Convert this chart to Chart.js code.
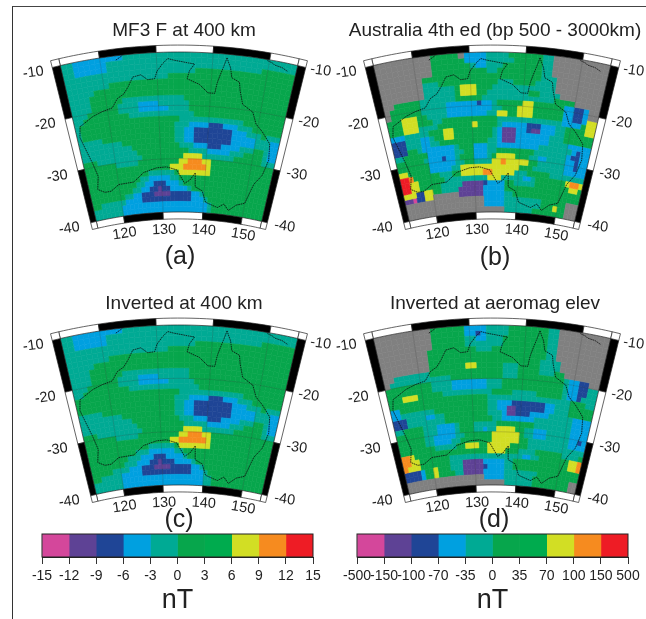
<!DOCTYPE html>
<html><head><meta charset="utf-8">
<script src="https://cdn.jsdelivr.net/npm/chart.js@4"></script>
<style>
html,body{margin:0;padding:0;background:#fff;width:646px;height:619px;overflow:hidden}
canvas{position:absolute;filter:blur(0.45px)}
#edge{position:absolute;left:12px;top:6px;width:640px;height:620px;border-left:1.4px solid #333;border-top:1.4px solid #444}
</style></head><body>
<div id="edge"></div>
<canvas id="mapA" width="368" height="280" style="left:0;top:0"></canvas>
<canvas id="mapB" width="350" height="280" style="left:320px;top:0"></canvas>
<canvas id="mapC" width="368" height="280" style="left:0;top:273px"></canvas>
<canvas id="mapD" width="350" height="280" style="left:320px;top:273px"></canvas>
<canvas id="barL" width="330" height="99" style="left:0;top:520px"></canvas>
<canvas id="barR" width="326" height="99" style="left:320px;top:520px"></canvas>
<script>
// Colour classes 0..9 (colour bar order), 10 = no data
const classColors=['#D4479B','#5E4295','#1F4596','#00A0E0','#00AA94','#07A64C','#00AB4E','#D2DE24','#F68B1F','#EE1C25','#808080'];
const titles=['MF3 F at 400 km','Australia 4th ed (bp 500 - 3000km)','Inverted at 400 km','Inverted at aeromag elev'];
const panelTags=['(a)','(b)','(c)','(d)'];
const lonTicks=[120,130,140,150];
const latTicks=[-10,-20,-30,-40];
const ticksNarrow=['-15','-12','-9','-6','-3','0','3','6','9','12','15'];
const ticksWide=['-500','-150','-100','-70','-35','0','35','70','100','150','500'];
const unitLabel='nT';

// Each row is one 1-degree latitude band from -10 down to -40:
// class, lon where it ends, class, lon where it ends, ... last class runs to 155E.
const rowsA=[
[4,115,3,124,4],
[4,115,3,121,4],
[4,115,3,121,4,149,5],
[4,137,5],
[4,132,5],
[4,121,5],
[4,118,5],
[4,117,5],
[4,117,5,123,4,135,5],
[4,117,5,122,4,126,3,130,4,136,5],
[4,116,5,122,4,126,3,132,4,136,5],
[4,115,5,124,4,137,5],
[4,114,5,134,4,147,5],
[4,114,5,133,4,136,3,140,2,143,3,146,4,149,5],
[4,114,5,133,4,135,3,137,2,145,3,148,4,151,5,152,4],
[4,118,5,133,4,135,3,137,2,145,3,150,4,153,3],
[4,122,5,133,4,135,3,137,2,145,3,150,4,153,3],
[4,124,5,134,4,137,3,140,2,143,3,147,4,150,5,152,4,153,3],
[4,125,5,136,4,140,3,145,4,148,5,152,4,153,3],
[5,116,4,126,5,135,7,139,4,146,5,152,4],
[5,120,4,125,5,134,7,136,8,139,7,141,5],
[5,132,7,135,8,140,7,141,5],
[5,127,4,133,5,134,7,141,5],
[5,125,4,127,3,132,4,134,5],
[5,124,4,126,3,128,2,131,3,134,4,135,5],
[5,123,4,125,3,127,2,129,1,130,2,132,3,136,4,137,5],
[5,121,4,123,3,125,2,128,1,132,2,137,3,139,4,140,5],
[5,115,4,121,3,125,2,137,3,140,4,141,5],
[4,120,3,141,4,142,5],
[4,120,3,141,4,142,5]];
const rowsB=[
[10,123,5,128,10,129,3,133,4,137,5,143,4,145,10],
[10,123,5,129,3,133,4,138,5,143,4,145,10],
[10,123,5,130,4,131,3,133,4,136,5,143,4,145,10],
[10,123,5,133,4,135,5,143,4,145,10],
[10,121,5,143,4,146,10],
[10,121,4,124,5,135,4,138,5,142,4,146,10],
[10,121,4,127,5,128,7,131,5,134,4,146,10],
[10,121,4,127,5,128,7,131,5,133,4,141,5,143,4,147,10],
[10,115,5,120,4,127,5,132,4,146,5,150,10],
[10,114,5,120,4,125,3,131,2,132,3,134,4,135,5,140,7,142,5,148,3,150,2,152,3,153,10],
[10,114,5,120,4,125,3,134,4,136,5,139,7,142,5,148,3,150,2,152,3,153,10],
[5,116,7,119,5,121,4,125,3,133,4,135,7,137,5,139,7,142,5,148,3,150,2,152,3,153,7,155],
[5,116,7,119,5,122,4,124,5,135,4,148,3,152,5,153,7,155],
[5,116,7,119,4,123,5,130,7,131,5,135,4,136,3,141,2,144,3,147,4,149,5,153,7,155],
[3,116,4,121,5,124,7,126,5,134,4,135,3,136,1,139,3,141,2,142,1,144,3,147,4,149,5],
[2,116,4,119,3,121,4,122,5,124,7,126,5,134,4,135,3,136,1,139,3,146,4,149,5],
[2,116,4,119,3,121,4,123,5,133,4,135,3,136,1,139,3,146,4,150,3],
[2,116,5,118,4,119,3,126,4,127,5,130,3,133,4,135,3,144,4,151,3,152,2,153,3],
[4,115,5,120,3,126,4,128,5,130,3,133,4,135,5,143,4,150,3,151,2,153,3],
[5,119,4,120,3,123,2,124,3,126,4,127,5,130,3,133,4,134,5,135,7,139,5,142,4,144,3,146,4,150,3,152,2,153,3],
[5,120,3,126,4,128,5,130,4,134,7,136,8,137,7,142,5,144,4,150,3,152,2,153,3],
[7,115,5,120,3,125,4,127,7,140,5,143,4,150,3],
[9,115,8,116,5,122,4,125,5,127,7,132,8,134,7,139,4,142,5,147,4],
[9,115,7,117,5,123,4,133,7,136,4,141,3,143,4,144,5,151,7,152,8,154,7],
[9,115,7,117,5,122,4,127,1,132,2,133,3,137,5,139,4,144,5,152,7,154,5],
[7,116,2,118,7,120,5,122,4,126,1,132,3,137,5],
[1,115,0,116,2,118,7,120,10,126,1,132,3,137,4,139,5],
[10,132,3,137,4,146,5,152,10],
[10,132,3,137,4,146,5,149,7,150,5,152,10],
[10,137,4,144,5,152,10]];
const rowsC=[
[4,115,3,124,4],
[4,115,3,121,4],
[4,115,3,121,4,149,5],
[4,137,5],
[4,132,5],
[4,121,5],
[4,118,5],
[4,117,5],
[4,117,5,123,4,136,5],
[4,117,5,122,4,126,3,130,4,136,5],
[4,116,5,122,4,126,3,132,4,137,5],
[4,115,5,124,4,138,5],
[5,134,4,147,5],
[5,133,4,136,3,140,2,143,3,146,4,149,5],
[5,133,4,135,3,137,2,145,3,148,4,151,5,152,4],
[4,118,5,133,4,135,3,137,2,145,3,150,4,153,3],
[4,122,5,133,4,135,3,137,2,145,3,150,4,153,3],
[4,124,5,134,4,137,3,140,2,143,3,147,4,150,5,152,4,153,3],
[4,125,5,135,4,140,3,145,4,148,5,152,4,153,3],
[5,116,4,126,5,135,7,139,4,146,5,152,4],
[5,120,4,125,5,134,7,136,8,139,7,141,5],
[5,132,7,134,8,140,7,141,5],
[5,127,4,133,5,134,7,141,5],
[5,124,4,127,3,133,4,135,5],
[5,122,4,125,3,128,2,131,3,135,4,136,5],
[5,121,4,124,3,127,2,129,1,130,2,133,3,137,4,138,5],
[5,118,4,122,3,125,2,128,1,132,2,137,3,139,4,140,5],
[5,115,4,120,3,125,2,137,3,140,4,141,5],
[4,120,3,140,4,142,5],
[4,120,3,140,4,142,5]];
const rowsD=[
[10,123,5,129,3,133,4,137,5,144,4,146,10],
[10,123,5,129,3,131,2,132,3,133,4,137,5,144,4,146,10],
[10,123,5,129,4,131,3,133,4,136,5,144,4,146,10],
[10,123,5,129,4,136,5,144,4,146,10],
[10,122,5,131,4,134,5,144,4,146,10],
[10,122,5,144,4,146,10],
[10,122,5,143,4,147,10],
[10,122,5,129,7,131,5,136,4,139,5,143,4,147,10],
[10,115,4,122,5,136,4,139,5,143,4,146,5,148,10],
[10,114,4,126,5,136,4,139,5,148,4,149,3,151,2,153,10],
[5,122,4,126,3,133,4,136,5,148,4,149,3,151,2,153,4],
[5,122,4,126,3,133,4,136,5,148,4,149,3,151,2,153,4],
[5,116,7,119,5,124,4,134,5,138,4,143,5,148,4,149,3,151,2,152,4],
[5,133,4,150,5,153,4],
[3,115,5,133,4,135,3,138,2,145,3,147,4,150,5],
[3,115,4,122,5,133,4,135,3,137,1,139,2,145,3,147,4,150,5],
[2,116,4,120,3,122,4,124,5,133,4,136,3,137,1,139,2,142,3,146,4,151,3],
[2,116,4,124,5,134,4,136,3,143,4,151,3],
[4,115,5,119,4,122,3,126,4,127,5,130,4,135,5,143,4,151,3],
[5,119,4,122,3,126,4,127,5,130,4,132,3,133,4,135,7,139,5,141,4,143,3,146,4,151,3],
[5,119,4,121,3,126,4,128,5,134,7,140,5,141,4,143,3,146,4,151,3,153,2,154,3],
[5,119,4,121,3,125,4,127,5,134,7,140,5,142,4,151,3],
[5,121,4,126,5,128,7,131,5,133,7,138,5,142,4],
[8,115,7,116,5,133,7,137,5,140,4,144,5,150,4,154,5],
[8,115,7,117,5,124,4,141,3,143,4,145,5,152,7,154,8],
[8,114,7,117,5,124,4,127,1,132,3,137,4,139,5,152,7,154,8],
[2,117,3,118,5,120,7,121,5,124,4,127,1,132,2,133,3,137,4,139,5],
[2,117,3,118,5,120,7,121,5,125,4,127,1,132,3,137,4,145,5],
[10,132,3,137,4,144,5,153,10],
[10,137,4,144,5,153,10]];

// Coastline (lon, lat)
const coastLon=[142.5,142,141.6,141.1,140.8,139.5,137.8,135.5,135.9,136.8,135.5,133,132,131,130,129.5,128.2,127,125.5,124.5,123.5,122.2,121,119,117,115,114.1,113.6,114.2,115,115.7,115,116.5,118,120,123.5,126,129,131.2,133.5,135.3,136.5,137.7,137.8,139.5,140.5,143.5,145,146.3,148,150,150.8,151.3,152.8,153.5,153,151,149.5,148.5,146.3,145.5,145.2,143.7,143.3,142.5];
const coastLat=[-10.7,-12.5,-13.8,-15.5,-17.5,-17.5,-16,-15,-13.5,-12.2,-12,-11.5,-11.2,-12.2,-13.5,-14.9,-15,-14,-14.3,-16,-17.3,-18,-19.6,-20,-20.6,-21.6,-22,-24,-26.3,-29,-31.8,-34.2,-35,-35,-34,-33.9,-32.3,-31.6,-31.5,-32.1,-34.6,-34,-32.6,-35.2,-35.9,-38,-38.8,-38,-39.1,-37.9,-37.3,-35,-33.5,-31.5,-28.5,-25.5,-23.5,-22.3,-20.2,-19,-16.5,-15,-14.3,-12.5,-10.7];
const islandEastLon=[149.6,150.6,151,152.4,153.5];
const islandEastLat=[-10.2,-10.5,-10.8,-11,-11.5];
const islandWestLon=[122.8,123.5,124];
const islandWestLat=[-10.8,-10.4,-10.1];

const LON_MIN=113,LON_MAX=155,LAT_TOP=-10,LAT_BOTTOM=-40;
const THETA=13.02*Math.PI/180,R_TOP=527,R_BOTTOM=367;

function project(chart,lon,lat,g){
  const sx=chart.scales.x,sy=chart.scales.y;
  const u=(sx.getPixelForValue(lon)-sx.left)/sx.width-0.5;
  const v=(sy.getPixelForValue(lat)-sy.top)/sy.height;
  const a=u*2*THETA,R=R_TOP-v*(R_TOP-R_BOTTOM);
  return [g.cx+R*Math.sin(a),g.apexY-R*Math.cos(a)];
}
function trace(ctx,chart,g,pts){
  pts.forEach((p,i)=>{const q=project(chart,p[0],p[1],g);i?ctx.lineTo(q[0],q[1]):ctx.moveTo(q[0],q[1]);});
}
function quad(ctx,chart,g,l0,l1,p0,p1,n){
  const pts=[];
  for(let k=0;k<=n;k++)pts.push([l0+(l1-l0)*k/n,p0]);
  for(let k=0;k<=n;k++)pts.push([l1-(l1-l0)*k/n,p1]);
  ctx.beginPath();trace(ctx,chart,g,pts);ctx.closePath();
}
const conicPlugin={
  id:'conic',
  beforeDatasetsDraw(chart){
    const ctx=chart.ctx,g=chart.options.plugins.conic;
    ctx.save();
    chart.data.datasets.forEach(ds=>{
      if(ds.kind!=='cells')return;
      ctx.fillStyle=ds.backgroundColor;ctx.strokeStyle=ds.backgroundColor;ctx.lineWidth=0.6;
      ds.data.forEach(d=>{
        quad(ctx,chart,g,d.x-0.5,d.x+0.5,d.y+0.5,d.y-0.5,1);
        ctx.fill();ctx.stroke();
      });
    });
    // graticule
    ctx.strokeStyle='rgba(30,30,30,0.3)';ctx.lineWidth=0.6;
    lonTicks.forEach(lon=>{ctx.beginPath();trace(ctx,chart,g,[[lon,LAT_TOP],[lon,LAT_BOTTOM]]);ctx.stroke();});
    latTicks.slice(1,3).forEach(lat=>{
      const pts=[];for(let l=LON_MIN;l<=LON_MAX;l+=3)pts.push([l,lat]);
      ctx.beginPath();trace(ctx,chart,g,pts);ctx.stroke();
    });
    // coast
    ctx.strokeStyle='#0a0a0a';ctx.lineWidth=0.8;ctx.setLineDash([1.6,0.7]);
    chart.data.datasets.forEach(ds=>{
      if(ds.kind!=='coast')return;
      ctx.beginPath();trace(ctx,chart,g,ds.data.map(d=>[d.x,d.y]));ctx.stroke();
    });
    ctx.setLineDash([]);
    // frame
    const dLat=1.3,dLon=1.45;
    const fill=(l0,l1,p0,p1,col,n)=>{quad(ctx,chart,g,l0,l1,p0,p1,n);ctx.fillStyle=col;ctx.fill();ctx.strokeStyle='#222';ctx.lineWidth=0.7;ctx.stroke();};
    const lonStops=[LON_MIN,...lonTicks,LON_MAX];
    lonStops.slice(0,-1).forEach((l,k)=>{
      const col=k%2?'#000':'#fff';
      fill(l,lonStops[k+1],LAT_TOP+dLat,LAT_TOP,col,8);
      fill(l,lonStops[k+1],LAT_BOTTOM,LAT_BOTTOM-dLat,col,8);
    });
    latTicks.slice(0,-1).forEach((p,k)=>{
      const col=k%2?'#fff':'#000';
      fill(LON_MIN-dLon,LON_MIN,p,latTicks[k+1],col,1);
      fill(LON_MAX,LON_MAX+dLon,p,latTicks[k+1],col,1);
    });
    [[LON_MIN-dLon,LON_MIN,LAT_TOP+dLat,LAT_TOP],[LON_MAX,LON_MAX+dLon,LAT_TOP+dLat,LAT_TOP],
     [LON_MIN-dLon,LON_MIN,LAT_BOTTOM,LAT_BOTTOM-dLat],[LON_MAX,LON_MAX+dLon,LAT_BOTTOM,LAT_BOTTOM-dLat]]
      .forEach(c=>fill(c[0],c[1],c[2],c[3],'#fff',1));
    // graticule labels
    ctx.fillStyle='#222';ctx.font='14.5px "Liberation Sans"';ctx.textAlign='center';ctx.textBaseline='middle';
    const put=(t,x,y,rot)=>{ctx.save();ctx.translate(x,y);ctx.rotate(rot);ctx.fillText(t,0,0);ctx.restore();};
    lonTicks.forEach(lon=>{
      const q=project(chart,lon,LAT_BOTTOM,g),rot=(lon-134)*0.62*Math.PI/180;
      put(String(lon),q[0]+1,q[1]+17.5,rot);
    });
    latTicks.forEach(lat=>{
      const l=project(chart,LON_MIN,lat,g),r=project(chart,LON_MAX,lat,g);
      put(String(lat),l[0]-27,l[1]+7,-0.14);
      put(String(lat),r[0]+23,r[1]+5,0.14);
    });
    // panel tag
    ctx.font='25px "Liberation Sans"';
    put(g.tag,g.tagX,g.tagY,0);
    ctx.restore();
    return false;
  }
};
function decode(rows){
  const byClass=classColors.map(()=>[]);
  rows.forEach((row,i)=>{
    let k=0;
    for(let lon=LON_MIN;lon<LON_MAX;lon++){
      while(k+1<row.length&&lon>=row[k+1])k+=2;
      byClass[row[k]].push({x:lon+0.5,y:LAT_TOP-0.5-i});
    }
  });
  return byClass;
}
function zip(a,b){return a.map((v,i)=>({x:v,y:b[i]}));}
function makeMap(id,rows,titleText,tag,cx,tagX,tagY){
  const sets=decode(rows).map((data,c)=>({kind:'cells',label:'class '+c,data,backgroundColor:classColors[c],pointRadius:0}));
  [[coastLon,coastLat],[islandEastLon,islandEastLat],[islandWestLon,islandWestLat]].forEach((s,i)=>{
    sets.push({kind:'coast',label:'coast '+i,data:zip(s[0],s[1]),showLine:true,pointRadius:0,borderColor:'#000',borderWidth:1});
  });
  return new Chart(document.getElementById(id),{
    type:'scatter',
    data:{datasets:sets},
    options:{
      responsive:false,animation:false,devicePixelRatio:1,
      layout:{padding:0},
      scales:{
        x:{type:'linear',min:LON_MIN,max:LON_MAX,display:false},
        y:{type:'linear',min:LAT_BOTTOM,max:LAT_TOP,display:false}
      },
      plugins:{
        legend:{display:false},tooltip:{enabled:false},
        title:{display:true,text:titleText,color:'#222',font:{family:'"Liberation Sans"',size:19,weight:'normal'},padding:{top:19,bottom:0}},
        conic:{cx,apexY:579,tag,tagX,tagY}
      }
    },
    plugins:[conicPlugin]
  });
}
makeMap('mapA',rowsA,titles[0],panelTags[0],179,180,257);
makeMap('mapB',rowsB,titles[1],panelTags[1],172,175,258);
makeMap('mapC',rowsC,titles[2],panelTags[2],179,179,247);
makeMap('mapD',rowsD,titles[3],panelTags[3],172,174,247);

const boxPlugin={id:'box',afterDraw(chart){const a=chart.chartArea,c=chart.ctx;c.save();c.strokeStyle='#222';c.lineWidth=1;c.strokeRect(a.left,a.top,a.right-a.left,a.bottom-a.top);c.restore();}};
function makeBar(id,labels,padL,padR){
  const bandSets=classColors.slice(0,10).map((col,c)=>({label:labels[c]+' to '+labels[c+1],data:[1],backgroundColor:col,stack:'s',barPercentage:1,categoryPercentage:1,borderWidth:0}));
  return new Chart(document.getElementById(id),{
    type:'bar',
    data:{labels:[unitLabel],datasets:bandSets},
    options:{
      indexAxis:'y',responsive:false,animation:false,devicePixelRatio:1,
      layout:{padding:{left:padL,right:padR,top:14,bottom:0}},
      scales:{
        y:{display:false,stacked:true},
        x:{type:'linear',stacked:true,min:0,max:10,
           afterFit(s){s.height=62;},
           grid:{color:'#333',drawOnChartArea:false,tickLength:7,lineWidth:1},
           border:{color:'#222'},
           ticks:{stepSize:1,autoSkip:false,maxRotation:0,minRotation:0,padding:4,color:'#222',font:{family:'"Liberation Sans"',size:14},callback:v=>labels[v]},
           title:{display:true,text:unitLabel,color:'#222',font:{family:'"Liberation Sans"',size:27},padding:{top:0,bottom:2}}
        }
      },
      plugins:{legend:{display:false},tooltip:{enabled:false}}
    },
    plugins:[boxPlugin]
  });
}
makeBar('barL',ticksNarrow,42,17);
makeBar('barR',ticksWide,37,18);
</script>
</body></html>
